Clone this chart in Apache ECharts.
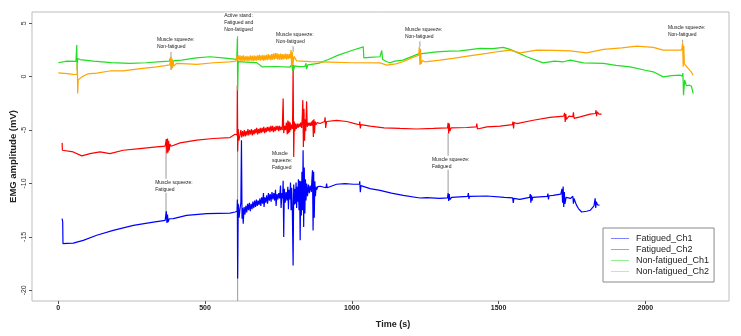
<!DOCTYPE html>
<html>
<head>
<meta charset="utf-8">
<script src="https://cdn.jsdelivr.net/npm/echarts@6/dist/echarts.min.js"></script>
<style>
  html, body { margin: 0; padding: 0; background: #fff; }
  #chart { width: 741px; height: 336px; }
</style>
</head>
<body>
<div id="chart"></div>
<script>
// [time (s), amplitude (mV)]
const fatiguedCh1 = [
  [13,-13.29],[15,-13.6],[16,-15.63],[30,-15.6],[51,-15.58],[85,-15.32],[131,-14.85],[187,-14.39],[256,-13.92],[324,-13.61],
  [364,-13.45],[368,-12.6],[370,-13.7],[372,-12.9],[374,-13.6],[378,-13.3],[392,-13.29],[437,-12.98],[506,-12.82],[585,-12.77],
  [602,-12.67],[609,-12.6],[610,-11.5],[611,-18.9],[613,-11.9],[616,-13.2],[619,-12.35],[622,-11.8],[624,-5.95],[626,-13.3],
  [628,-12.3],[630,-13.76],[633,-12.2],[636,-12.9],[639,-12.1],[642,-12.7],[645,-11.9],[648,-12.5],[651,-11.8],[654,-12.6],
  [657,-11.9],[660,-12.4],[663,-11.7],[666,-12.3],[669,-11.6],[672,-12.2],[675,-11.5],[678,-12.1],[681,-11.6],[684,-12.0],
  [687,-11.4],[690,-12.1],[693,-11.3],[696,-11.9],[699,-10.9],[701,-12.2],[704,-11.3],[707,-11.8],[710,-11.1],[713,-11.9],
  [716,-10.9],[719,-11.6],[722,-11.0],[725,-11.7],[728,-10.8],[731,-11.5],[734,-10.9],[737,-11.6],[740,-10.6],[742,-12.1],
  [745,-11.0],[748,-11.5],[751,-10.9],[754,-11.4],[757,-10.2],[759,-12.3],[762,-10.9],[764,-11.4],[766,-9.75],[768,-15.01],
  [770,-10.5],[773,-11.8],[776,-10.8],[779,-11.6],[782,-10.3],[784,-12.4],[786,-10.6],[789,-11.5],[791,-9.9],[793,-12.5],
  [795,-10.4],[797,-11.8],[800,-17.67],[802,-10.1],[804,-12.0],[806,-10.5],[808,-11.9],[810,-9.9],[812,-12.3],[814,-10.3],
  [816,-11.7],[818,-9.6],[820,-12.5],[822,-9.75],[824,-15.32],[826,-9.8],[828,-13.0],[830,-8.9],[832,-12.5],[834,-6.89],
  [836,-14.08],[838,-8.5],[840,-12.8],[842,-9.6],[844,-11.6],[846,-10.0],[849,-11.2],[852,-10.1],[855,-10.9],[858,-10.2],
  [862,-10.8],[864,-9.6],[866,-8.76],[868,-14.39],[870,-8.9],[872,-13.2],[874,-9.8],[876,-11.2],[878,-10.3],[880,-10.6],
  [884,-10.3],[892,-10.26],[912,-10.4],[914,-10.0],[916,-10.4],[948,-10.07],[977,-10.01],[1005,-10.07],[1026,-10.05],[1027,-9.8],
  [1029,-10.82],[1031,-10.2],[1062,-10.48],[1096,-10.64],[1135,-10.9],[1175,-11.11],[1232,-11.36],[1255,-11.32],[1300,-11.4],[1326,-11.35],
  [1328,-10.89],[1330,-11.64],[1332,-11.0],[1334,-11.5],[1340,-11.3],[1395,-11.2],[1397,-10.9],[1399,-11.45],[1401,-11.2],[1460,-11.17],
  [1520,-11.3],[1548,-11.35],[1550,-11.83],[1552,-11.4],[1572,-11.48],[1606,-11.3],[1608,-11.0],[1610,-11.8],[1612,-11.1],[1614,-11.6],
  [1616,-11.3],[1666,-11.2],[1668,-10.95],[1670,-11.5],[1672,-11.15],[1686,-11.11],[1712,-11.0],[1716,-10.5],[1718,-11.8],[1720,-10.28],
  [1722,-12.2],[1724,-10.8],[1726,-11.9],[1730,-11.3],[1745,-11.4],[1753,-11.2],[1755,-11.9],[1757,-11.4],[1765,-12.0],[1772,-12.35],
  [1783,-12.67],[1800,-12.6],[1812,-12.51],[1825,-12.1],[1829,-11.39],[1831,-12.3],[1833,-11.7],[1837,-12.0],[1844,-12.04]
];
const fatiguedCh2 = [
  [13,-6.2],[14,-6.89],[20,-6.95],[51,-7.05],[80,-7.42],[108,-7.2],[142,-7.05],[176,-7.2],[221,-6.89],[278,-6.73],
  [335,-6.58],[364,-6.51],[368,-5.85],[370,-7.2],[372,-5.8],[374,-7.1],[376,-6.0],[378,-6.9],[380,-6.3],[384,-6.51],
  [415,-6.2],[472,-5.95],[528,-5.79],[585,-5.7],[602,-5.39],[609,-5.45],[610,-0.8],[611,-7.0],[613,-4.9],[615,-6.0],
  [619,-5.48],[622,-5.0],[625,-5.7],[628,-5.1],[631,-5.6],[634,-5.0],[637,-5.6],[640,-5.1],[643,-5.5],[646,-4.9],
  [649,-5.5],[652,-5.0],[655,-5.4],[658,-4.9],[661,-5.5],[664,-5.0],[667,-5.4],[670,-4.9],[673,-5.3],[676,-4.8],
  [679,-5.4],[682,-4.9],[685,-5.3],[688,-4.8],[691,-5.3],[694,-4.8],[697,-5.2],[700,-4.7],[703,-5.3],[706,-4.8],
  [709,-5.2],[712,-4.7],[715,-5.1],[718,-4.7],[721,-5.2],[724,-4.6],[727,-5.1],[730,-4.6],[733,-5.2],[736,-4.7],
  [739,-5.1],[742,-4.6],[745,-5.0],[748,-4.6],[751,-5.1],[754,-4.6],[757,-5.0],[760,-4.7],[763,-5.0],[766,-2.04],
  [768,-5.3],[771,-4.6],[774,-5.0],[777,-4.3],[780,-5.4],[782,-4.1],[784,-5.3],[786,-4.2],[788,-5.2],[790,-4.3],
  [792,-5.0],[795,-4.5],[798,-4.9],[800,1.08],[802,-7.52],[804,-4.2],[806,-5.1],[808,-4.4],[811,-4.9],[814,-4.4],
  [817,-4.8],[820,-4.4],[823,-4.7],[826,-4.3],[829,-4.8],[831,-3.9],[833,-2.2],[835,-6.58],[837,-3.0],[839,-6.0],
  [841,-4.0],[843,-5.1],[846,-2.3],[848,-4.7],[851,-4.3],[854,-4.6],[857,-4.3],[860,-4.6],[863,-4.2],[865,-4.6],
  [867,-4.08],[869,-5.64],[871,-4.0],[873,-5.3],[875,-4.2],[878,-4.5],[882,-4.3],[892,-4.39],[907,-4.2],[909,-3.8],
  [911,-4.8],[914,-4.2],[948,-4.1],[983,-4.2],[1010,-4.4],[1026,-4.5],[1027,-4.2],[1029,-4.85],[1031,-4.5],[1062,-4.64],
  [1110,-4.8],[1164,-4.85],[1220,-4.9],[1278,-4.85],[1326,-4.8],[1328,-4.33],[1330,-5.32],[1332,-4.4],[1334,-5.1],[1338,-4.8],
  [1391,-4.76],[1424,-4.7],[1426,-4.4],[1428,-4.9],[1460,-4.7],[1505,-4.64],[1547,-4.5],[1549,-4.2],[1551,-4.85],[1553,-4.3],
  [1562,-4.39],[1618,-4.08],[1675,-3.82],[1722,-3.7],[1725,-3.39],[1727,-4.24],[1729,-3.5],[1731,-4.0],[1740,-3.7],[1753,-3.75],
  [1755,-3.35],[1757,-3.9],[1778,-3.77],[1812,-3.51],[1830,-3.45],[1832,-3.14],[1834,-3.7],[1836,-3.3],[1842,-3.5],[1851,-3.51]
];
const nonFatiguedCh1 = [
  [0,1.30],[5,1.40],[30,1.45],[60,1.42],[63,2.95],[64,0.60],[66,1.70],[74,1.60],[120,1.45],[180,1.32],
  [244,1.24],[300,1.30],[350,1.40],[378,1.45],[382,1.75],[384,1.05],[387,1.6],[390,1.2],[394,1.5],[420,1.55],
  [470,1.75],[517,1.86],[560,1.75],[608,1.61],[610,3.6],[611,-1.3],[613,1.4],[640,1.36],[676,1.31],[694,0.92],
  [740,0.95],[789,0.89],[796,1.15],[798,0.55],[800,1.1],[802,0.6],[805,1.0],[820,0.94],[840,0.95],[844,1.25],
  [846,0.7],[850,1.1],[886,1.24],[920,1.6],[954,2.01],[1000,2.45],[1039,2.79],[1041,1.75],[1060,1.80],[1096,1.86],
  [1100,1.9],[1102,2.45],[1105,1.6],[1119,1.39],[1130,1.3],[1147,1.45],[1174,1.55],[1225,2.11],[1289,2.32],[1330,2.38],
  [1369,2.42],[1437,2.64],[1480,2.62],[1516,2.74],[1539,2.55],[1596,1.86],[1652,1.29],[1690,1.45],[1721,1.39],[1744,1.55],
  [1789,1.29],[1857,1.24],[1900,1.05],[1948,0.92],[2000,0.6],[2027,0.45],[2061,-0.02],[2090,0.1],[2118,0.14],[2126,0.05],
  [2128,0.33],[2130,-1.73],[2134,-0.3],[2140,-0.85],[2150,-0.8],[2157,-0.9],[2163,-1.6]
];
const nonFatiguedCh2 = [
  [0,0.36],[30,0.28],[51,0.21],[64,0.2],[65,1.27],[66,-1.57],[68,-0.3],[80,-0.02],[100,0.25],[131,0.33],
  [180,0.55],[221,0.54],[280,0.75],[335,0.92],[364,1.03],[380,1.1],[383,1.86],[385,0.67],[387,1.7],[389,0.8],
  [391,1.5],[393,1.0],[403,1.24],[440,1.2],[472,1.14],[530,1.3],[585,1.39],[605,1.45],[608,1.9],[610,1.5],
  [613,2.0],[616,1.5],[619,2.0],[622,1.45],[625,1.95],[628,1.5],[631,2.0],[634,1.45],[637,1.9],[640,1.5],
  [643,1.95],[646,1.45],[649,1.9],[652,1.5],[655,2.0],[658,1.5],[661,1.95],[664,1.45],[667,2.0],[670,1.5],
  [673,1.95],[676,1.5],[679,2.0],[682,1.55],[685,2.05],[688,1.5],[691,2.0],[694,1.55],[697,2.05],[700,1.5],
  [703,2.0],[706,1.55],[709,2.05],[712,1.55],[715,2.1],[718,1.6],[721,2.05],[724,1.55],[727,2.1],[730,1.6],
  [733,2.15],[736,1.6],[739,2.2],[742,1.65],[745,2.2],[748,1.6],[751,2.1],[754,1.6],[757,2.15],[760,1.6],
  [763,2.1],[766,1.6],[769,2.1],[772,1.65],[775,2.15],[778,1.6],[781,2.1],[784,1.65],[787,2.1],[790,1.7],
  [793,2.5],[795,0.92],[797,2.3],[799,1.1],[803,1.9],[812,1.48],[860,1.4],[925,1.36],[1000,1.3],[1096,1.29],
  [1119,1.08],[1150,1.2],[1174,1.39],[1208,1.80],[1228,2.0],[1230,2.79],[1232,1.08],[1234,2.6],[1236,1.2],[1240,1.5],
  [1249,1.39],[1300,1.55],[1345,1.71],[1400,1.95],[1460,2.17],[1500,2.35],[1539,2.48],[1573,2.23],[1630,2.48],[1690,2.45],
  [1744,2.42],[1800,2.23],[1857,2.55],[1920,2.7],[1971,2.86],[2027,2.74],[2061,2.48],[2124,2.48],[2127,3.17],[2129,0.92],
  [2131,2.9],[2133,1.2],[2138,1.1],[2145,0.80],[2155,0.5],[2163,0.14]
];

const seriesNames = ['Fatigued_Ch1', 'Fatigued_Ch2', 'Non-fatigued_Ch1', 'Non-fatigued_Ch2'];
const xTicks = [0, 500, 1000, 1500, 2000];
const yTicks = [-20, -15, -10, -5, 0, 5];

// annotation marker lines: [time, from mV, to mV]
const noteLines = [
  [384, 2.30, 0.61],
  [367, -6.4, -13.0],
  [611, 3.8, -21],
  [800, 2.85, 2.3],
  [1232, 3.3, 2.8],
  [1328, -5.3, -10.9],
  [2127, 3.45, 3.2]
];
// annotation texts and their top-left corner [time, mV]
const noteTexts = [
  'Muscle squeeze:\nNon-fatigued',
  'Muscle squeeze:\nFatigued',
  'Active stand:\nFatigued and\nNon-fatigued',
  'Muscle squeeze:\nNon-fatigued',
  'Muscle\nsqueeze:\nFatigued',
  'Muscle squeeze:\nNon-fatigued',
  'Muscle squeeze:\nFatigued',
  'Muscle squeeze:\nNon-fatigued'
];
const notePos = [
  [336, 3.75], [330, -9.56], [565, 6.0], [742, 4.22],
  [728, -6.84], [1181, 4.69], [1273, -7.40], [2077, 4.87]
];

const colors = ['#0000ff', '#ff0000', '#22dd22', '#ffa500'];
const font = 'Liberation Sans, Arial, sans-serif';

const chart = echarts.init(document.getElementById('chart'));

let lineSeries = [fatiguedCh1, fatiguedCh2, nonFatiguedCh1, nonFatiguedCh2].map((d, i) => ({
  name: seriesNames[i],
  type: 'line',
  data: d,
  symbol: 'none',
  z: 3,
  lineStyle: { color: colors[i], width: 1.2 },
  itemStyle: { color: colors[i] }
}));

let option = {
  animation: false,
  color: colors,
  grid: {
    left: 32, right: 12, top: 12, bottom: 35,
    outerBoundsMode: 'none',
    show: true, borderColor: '#bdbdbd', borderWidth: 1
  },
  legend: {
    orient: 'vertical',
    left: 603, top: 228,
    data: seriesNames,
    icon: 'path://M0,0L20,0L20,1L0,1Z',
    backgroundColor: '#fff',
    borderColor: '#8a8a8a', borderWidth: 1,
    padding: [6, 5, 6, 8],
    itemWidth: 18, itemHeight: 9, itemGap: 2,
    itemStyle: { opacity: 0.55 },
    textStyle: { fontFamily: font, fontSize: 9, color: '#222', padding: [0, 0, 0, 2] }
  },
  xAxis: {
    type: 'value',
    min: -89.6, max: 2285,
    name: 'Time (s)',
    nameLocation: 'middle',
    nameGap: 19,
    nameMoveOverlap: false,
    nameTextStyle: { fontFamily: font, fontSize: 9, fontWeight: 'bold', color: '#222', padding: [0, 0, 0, 25] },
    axisLine: { show: false, onZero: false },
    axisTick: { show: true, customValues: xTicks, length: 3, lineStyle: { color: '#555' } },
    axisLabel: {
      customValues: xTicks, fontFamily: font, fontSize: 7, fontWeight: 'bold', color: '#222', margin: 4,
      formatter: v => String(v)
    },
    splitLine: { show: false }
  },
  yAxis: {
    type: 'value',
    min: -21, max: 6.05,
    name: 'EMG amplitude (mV)',
    nameLocation: 'middle',
    nameGap: 14,
    nameMoveOverlap: false,
    nameTextStyle: { fontFamily: font, fontSize: 9.5, fontWeight: 'bold', color: '#222' },
    axisLine: { show: false, onZero: false },
    axisTick: { show: true, customValues: yTicks, length: 3, lineStyle: { color: '#555' } },
    axisLabel: {
      customValues: yTicks, rotate: 90, fontFamily: font, fontSize: 7, color: '#333', margin: 4,
      formatter: v => String(v)
    },
    splitLine: { show: false }
  },
  series: [
    {
      type: 'custom',
      silent: true,
      z: 1,
      data: noteLines,
      encode: { x: 0, y: [1, 2] },
      renderItem: function (params, api) {
        let p1 = api.coord([api.value(0), api.value(1)]);
        let p2 = api.coord([api.value(0), api.value(2)]);
        return {
          type: 'line',
          shape: { x1: p1[0], y1: p1[1], x2: p2[0], y2: p2[1] },
          style: { stroke: '#9a9a9a', lineWidth: 1 }
        };
      }
    },
    {
      type: 'custom',
      silent: true,
      z: 2,
      data: notePos,
      encode: { x: 0, y: 1 },
      renderItem: function (params, api) {
        let p = api.coord([api.value(0), api.value(1)]);
        return {
          type: 'text',
          x: p[0], y: p[1],
          style: {
            text: noteTexts[params.dataIndex],
            fill: '#222',
            font: '5px ' + font,
            lineHeight: 7,
            align: 'left',
            verticalAlign: 'top',
            backgroundColor: '#fff'
          }
        };
      }
    }
  ].concat(lineSeries)
};

chart.setOption(option);
</script>
</body>
</html>
